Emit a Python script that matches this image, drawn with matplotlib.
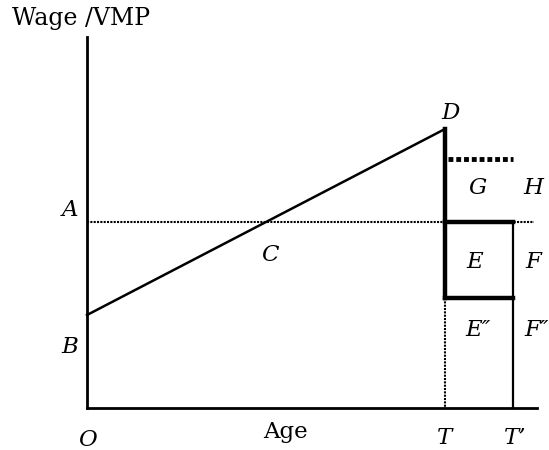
import matplotlib
matplotlib.use('Agg')
import matplotlib.pyplot as plt

# Diagram values (horizontal: age, vertical: wage / VMP)
T = 358
T_prime = 426
x_end = 450
y_top = 371
wage_start = 93      # B
wage_at_T = 279      # D
vmp_level = 186      # A
high_level = 249     # dashed level above G
low_level = 110      # bottom of E box

plt.rcParams['font.family'] = ['DejaVu Serif']

fig = plt.figure(figsize=(5.49, 4.5), dpi=100)
ax = fig.add_axes([0, 0, 1, 1])
ax.set_xlim(-87, 462)
ax.set_ylim(-42, 408)
ax.axis('off')

# axes
ax.plot([0, 0], [0, y_top], color='black', lw=2)
ax.plot([0, x_end], [0, 0], color='black', lw=2)

# wage profile
ax.plot([0, T], [wage_start, wage_at_T], color='black', lw=1.8)

# VMP line (dotted)
ax.plot([0, x_end - 3], [vmp_level, vmp_level], color='black', lw=1.5, ls=(0, (1, 0.6)))

# thick dashed line above
ax.plot([T + 3, T_prime], [high_level, high_level], color='black', lw=3.5, ls=(0, (1, 0.6)))

# thick vertical from D down to box bottom
ax.plot([T, T], [wage_at_T, low_level], color='black', lw=3.2)
ax.plot([T, T_prime], [vmp_level, vmp_level], color='black', lw=3.2)
ax.plot([T, T_prime], [low_level, low_level], color='black', lw=3.2)

# thin line at T'
ax.plot([T_prime, T_prime], [vmp_level, 0], color='black', lw=1.6)

# dotted vertical at T
ax.plot([T, T], [low_level, 0], color='black', lw=1.5, ls=(0, (1, 0.6)))

fs = 16.5
it = dict(fontsize=fs, style='italic', ha='center', va='center')
ax.text(-17, 198, 'A', **it)
ax.text(-17, 61, 'B', **it)
ax.text(183, 153, 'C', **it)
ax.text(364, 295, 'D', **it)
ax.text(391, 220, 'G', **it)
ax.text(446, 220, 'H', **it)
ax.text(388, 146, 'E', **it)
ax.text(446, 146, 'F', **it)
ax.text(391, 78, 'E\u2033', **it)
ax.text(450, 78, 'F\u2033', **it)
ax.text(0, -32, 'O', **it)
ax.text(358, -30, 'T', **it)
ax.text(428, -30, 'T\u2019', **it)
ax.text(198, -24, 'Age', fontsize=fs, ha='center', va='center')
ax.text(-75, 390, 'Wage /VMP', fontsize=17, ha='left', va='center')

fig.savefig('out.png', dpi=100)
